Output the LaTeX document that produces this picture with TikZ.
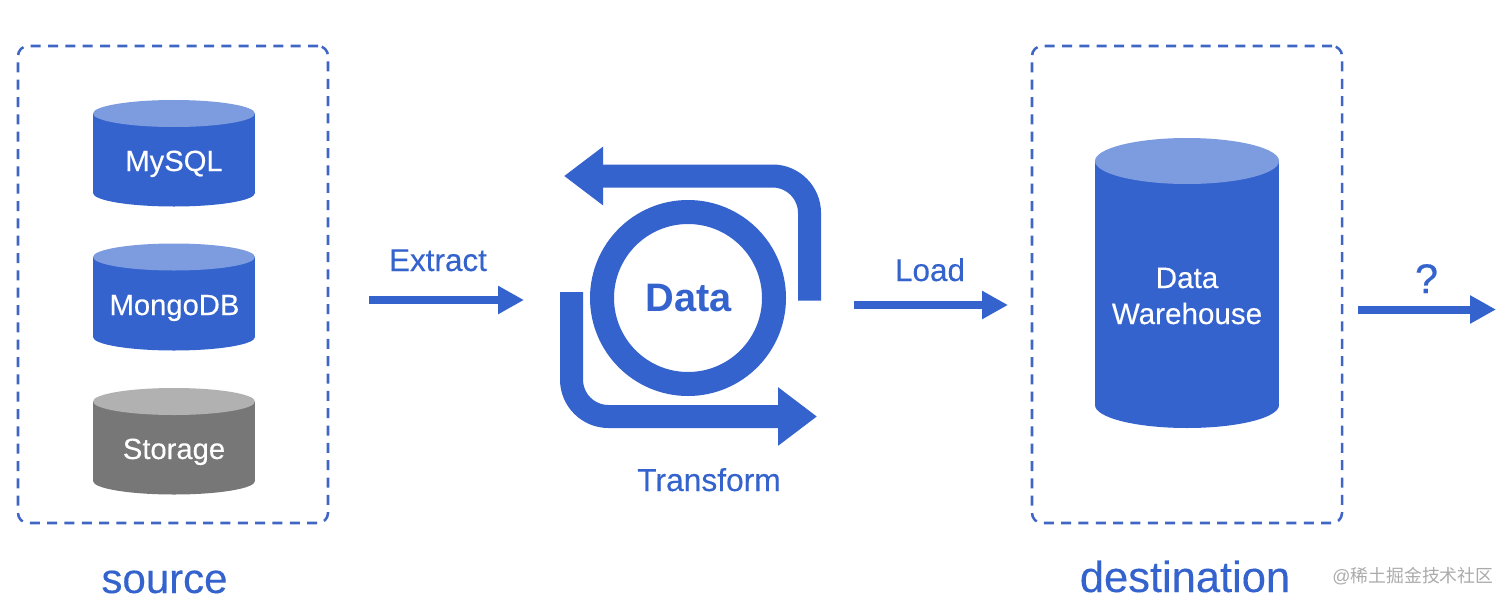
\documentclass[tikz,border=0pt]{standalone}
\usepackage{fontspec}
\setmainfont{Liberation Sans}
\newfontfamily\softbold[FakeBold=0.2]{Liberation Sans}
\newfontfamily\qmark[FakeBold=0.6]{Liberation Sans}
\newfontfamily\cjkfont{Noto Sans CJK SC}
\usetikzlibrary{arrows.meta}
\definecolor{flowblue}{HTML}{3563CE}
\definecolor{dashblue}{HTML}{3F66C4}
\definecolor{lightblue}{HTML}{7D9CE0}
\definecolor{cylgrey}{HTML}{777777}
\definecolor{lightgrey}{HTML}{B1B1B1}
\definecolor{markgrey}{HTML}{ABABAB}
\newcommand{\fsz}[1]{\fontsize{#1}{#1}\selectfont}
% name, cx, top centre y, bottom centre y, rx, ry, body colour, top colour
\newcommand{\drum}[8]{%
  \fill[#7] (#2-#5,#3) rectangle (#2+#5,#4);
  \fill[#7] (#2,#4) ellipse [x radius=#5, y radius=#6];
  \fill[#8] (#2,#3) ellipse [x radius=#5, y radius=#6];
  \coordinate (#1) at (#2,#4);
}
\tikzset{
  regionbox/.style={draw=dashblue, line width=1.9pt, rounded corners=7.5pt,
    dash pattern=on 7.5pt off 5.5pt, inner sep=0pt, outer sep=0pt},
  thinflow/.style={draw=flowblue, line width=6pt, -{Triangle[length=19.5pt,width=20pt]}},
  bigflow/.style={draw=flowblue, line width=17.25pt, rounded corners=27.75pt,
    -{Triangle[length=29.25pt,width=42pt]}},
  ringnode/.style={circle, draw=flowblue, line width=18pt, minimum size=129pt,
    inner sep=0pt, outer sep=0pt},
  ringtext/.style={text=flowblue, inner sep=0pt, font=\fsz{29.8}\bfseries},
  cyltext/.style={text=white, anchor=base, inner sep=0pt, font=\fsz{21.9}\softbold},
  flowtext/.style={text=flowblue, anchor=base, inner sep=0pt, font=\fsz{23.6}\softbold},
  regiontext/.style={text=flowblue, anchor=base, inner sep=0pt, font=\fsz{31.5}\softbold},
  marktext/.style={text=markgrey, anchor=base, inner sep=0pt, font=\fsz{13.4}},
}
\begin{document}
\begin{tikzpicture}[x=.75pt,y=-.75pt]
\useasboundingbox[fill=white] (0,0) rectangle (1512,603);

\node[regionbox, minimum width=232.5pt, minimum height=357.75pt] (srcbox) at (173,284.5) {};
\node[regionbox, minimum width=232.5pt, minimum height=357.75pt] (dstbox) at (1187,284.5) {};

\drum{mysqlbase}{174}{113.5}{193}{81}{13.5}{flowblue}{lightblue}
\drum{mongobase}{174}{257}{337}{81}{13.5}{flowblue}{lightblue}
\drum{storagebase}{174}{401.5}{481}{81}{13.5}{cylgrey}{lightgrey}
\drum{dwbase}{1187}{161}{405}{92}{23}{flowblue}{lightblue}

\node[cyltext] (mysql) at (174,171) {MySQL};
\node[cyltext] (mongo) at (174.5,315) {MongoDB};
\node[cyltext] (storage) at (174,459) {Storage};
\node[cyltext, font=\fsz{22.2}\softbold] (dw1) at (1187,288) {Data};
\node[cyltext, font=\fsz{22.2}\softbold] (dw2) at (1187,324) {Warehouse};

\node[ringnode] (ring) at (688,298) {};
\node[ringtext] (ringlabel) at (688.5,298.5) {Data};

\coordinate (exA) at (369,300);
\coordinate (exB) at (524,300);
\coordinate (loA) at (854,305);
\coordinate (loB) at (1008,305);
\coordinate (quA) at (1358,309.5);
\coordinate (quB) at (1496,309.5);
\draw[thinflow] (exA) -- (exB);
\draw[thinflow] (loA) -- (loB);
\draw[thinflow] (quA) -- (quB);

\coordinate (topA) at (809.5,300.5);
\coordinate (topC) at (809.5,176);
\coordinate (topB) at (564,176);
\coordinate (botA) at (571.5,292);
\coordinate (botC) at (571.5,416.5);
\coordinate (botB) at (817,416.5);
\draw[bigflow] (topA) -- (topC) -- (topB);
\draw[bigflow] (botA) -- (botC) -- (botB);

\node[flowtext] (extract) at (438,271) {Extract};
\node[flowtext] (load) at (930,281) {Load};
\node[flowtext, font=\fsz{23.8}\softbold] (transform) at (709,491) {Transform};
\node[flowtext, font=\fsz{31}\qmark] (question) at (1426.5,293) {?};
\node[regiontext] (source) at (164.5,593) {source};
\node[regiontext, font=\fsz{32.6}\softbold] (destination) at (1185,592) {destination};
\node[marktext] (mark) at (1413,582) {@{\cjkfont 稀土掘金技术社区}};
\end{tikzpicture}
\end{document}
